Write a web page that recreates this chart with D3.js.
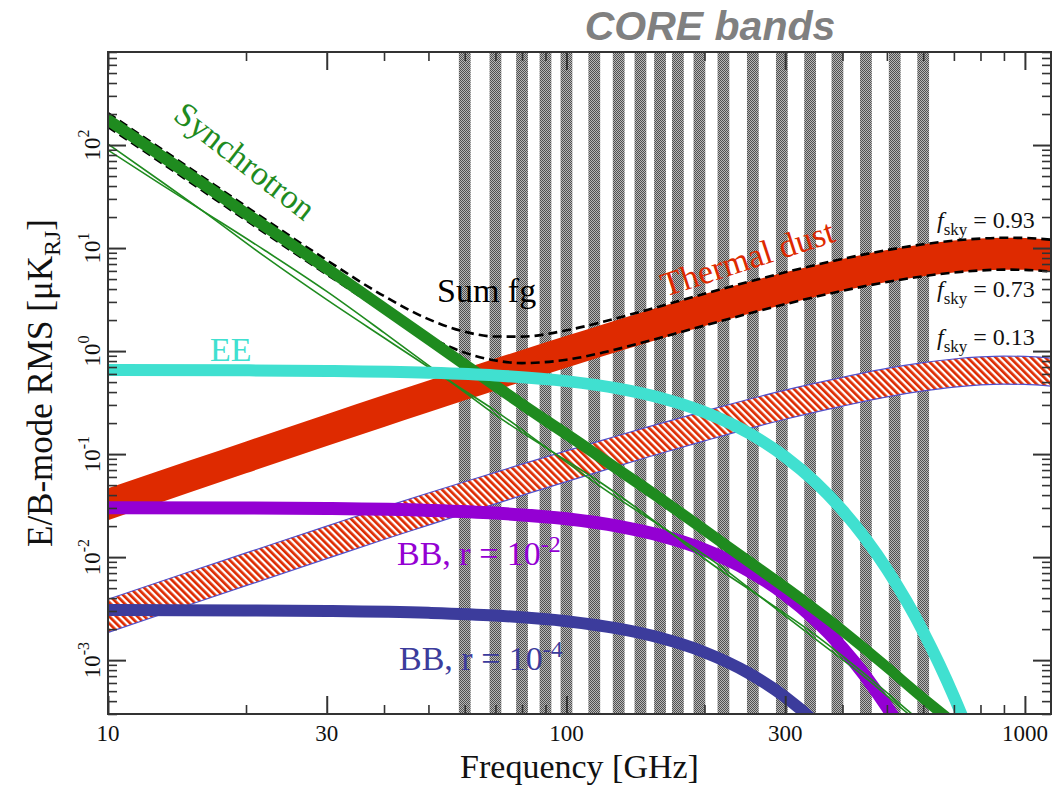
<!DOCTYPE html>
<html><head><meta charset="utf-8">
<script src="https://cdn.jsdelivr.net/npm/d3@7"></script>
<style>
body{margin:0;background:#fff;}
svg{display:block;}
</style></head><body>
<svg id="chart" width="1053" height="785"></svg>
<script>
// ---------------- DATA ----------------
const coreBands = [60,70,80,90,100,115,130,145,160,175,195,220,255,295,340,390,450,520,600];

const fgFreq   = [10,15,20,30,40,50,60,70,80,100,120,150,200,250,300,400,500,600,700,800,900,1000,1150];
const dust093  = [0.0465,0.0860,0.1327,0.2437,0.3738,0.5193,0.6778,0.8472,1.027,1.408,1.815,2.457,3.574,4.706,5.808,7.840,9.551,10.87,11.81,12.36,12.59,12.53,12.01];
const dust073  = [0.0228,0.0422,0.0651,0.1195,0.1833,0.2546,0.3323,0.4154,0.5034,0.6902,0.8899,1.205,1.752,2.307,2.848,3.844,4.683,5.328,5.789,6.063,6.172,6.142,5.889];
const dust013Hi= [0.0039,0.00717,0.01098,0.02002,0.03055,0.04188,0.05393,0.0665,0.0799,0.1075,0.1366,0.1828,0.2613,0.341,0.4184,0.5564,0.678,0.771,0.838,0.877,0.893,0.889,0.852];
const dust013Lo= [0.001857,0.00343,0.00528,0.00967,0.01483,0.02043,0.02657,0.03292,0.03975,0.0540,0.06916,0.09327,0.1343,0.1767,0.2179,0.2921,0.3587,0.4101,0.4469,0.469,0.4775,0.4754,0.4556];
const sync093  = [204.1,60.46,25.22,7.384,3.044,1.523,0.8616,0.5364,0.3552,0.1818,0.1045,0.0529,0.02145,0.01054,0.005933,0.002257,0.000996,0.000496,0.000285,0.000174,0.000112,0.000071,0.00004];
const sync073  = [150.1,44.47,18.55,5.431,2.239,1.120,0.6337,0.3945,0.2612,0.1337,0.07686,0.03891,0.01578,0.007751,0.004364,0.00166,0.000732,0.000364,0.000209,0.000128,0.000082,0.000052,0.000029];
const sumFg093 = [204.15,60.55,25.35,7.628,3.418,2.042,1.539,1.384,1.382,1.590,1.920,2.510,3.595,4.717,5.814,7.842,9.552,10.87,11.81,12.36,12.59,12.53,12.01];
const sumFg073 = [150.12,44.51,18.62,5.551,2.422,1.375,0.966,0.810,0.7646,0.8239,0.9668,1.244,1.768,2.315,2.852,3.846,4.684,5.328,5.789,6.063,6.172,6.142,5.889];

const syncThinFreq = [10,13,16,22,30,40,56,70,92,120,165,210,265,350,450,550,650];
const sync013a = [102.4,45.0,23.35,8.25,3.156,1.347,0.501,0.2632,0.1094,0.04677,0.01846,0.00904,0.004111,0.001589,0.00067,0.000314,0.000168];
const sync013b = [89.2,42.0,23.35,9.47,3.795,1.511,0.501,0.2401,0.1094,0.05128,0.01846,0.008246,0.004111,0.001742,0.000718,0.000336,0.00018];

const cmbFreq = [10,20,30,50,70,100,130,160,200,250,300,350,400,450,500,550,600,650,700,750,800];
const eeRms   = [0.6553,0.6503,0.6419,0.6161,0.5797,0.5105,0.4320,0.3525,0.2556,0.1598,0.09402,0.05274,0.02849,0.01493,0.007638,0.003831,0.00189,0.0009194,0.000442,0.0002103,0.0000992];
const bbR2    = [0.03022,0.02999,0.02961,0.02841,0.02674,0.02354,0.01992,0.01625,0.01179,0.007369,0.004336,0.002432,0.001314,0.0006886,0.0003523,0.0001767,0.0000872,0.0000424,0.0000204,0.0000097,0.0000046];
const bbR4    = [0.003062,0.003038,0.0030,0.002879,0.002709,0.002386,0.002019,0.001647,0.001194,0.0007467,0.0004393,0.0002464,0.0001331,0.0000698,0.0000357,0.0000179,0.0000088,0.0000043,0.0000021,0.000001,0.00000046];

const xTickLabels = [10,30,100,300,1000];
const yTickExps   = [-3,-2,-1,0,1,2];

// ---------------- CHART ----------------
const svg = d3.select('#chart');
const M = {l:108, r:1051, t:52, b:714};
const x = d3.scaleLog().domain([10,1140]).range([M.l,M.r]);
const y = d3.scaleLog().domain([3e-4,800]).range([M.b,M.t]);

const GREEN='#1f8b1f', RED='#de2a00', TURQ='#40e0d0', PURPLE='#9400d3', NAVY='#3c3c9c';
const SERIF='"Liberation Serif","Times New Roman",Times,serif';

const defs = svg.append('defs');
defs.append('clipPath').attr('id','plotclip').append('rect')
  .attr('x',M.l).attr('y',M.t).attr('width',M.r-M.l).attr('height',M.b-M.t);
const chk = defs.append('pattern').attr('id','checker').attr('width',2).attr('height',2)
  .attr('patternUnits','userSpaceOnUse');
chk.append('rect').attr('width',2).attr('height',2).attr('fill','#b8b8b8');
chk.append('rect').attr('width',1).attr('height',1).attr('fill','#505050');
chk.append('rect').attr('x',1).attr('y',1).attr('width',1).attr('height',1).attr('fill','#505050');
const hat = defs.append('pattern').attr('id','hatch').attr('width',5).attr('height',10)
  .attr('patternUnits','userSpaceOnUse').attr('patternTransform','rotate(-45)');
hat.append('rect').attr('width',5).attr('height',10).attr('fill','#fff');
hat.append('rect').attr('width',2.7).attr('height',10).attr('fill',RED);

const plot = svg.append('g').attr('clip-path','url(#plotclip)');

// CORE bands
plot.append('g').selectAll('rect').data(coreBands).join('rect')
  .attr('x',d=>x(d/1.03)).attr('width',d=>x(d*1.03)-x(d/1.03))
  .attr('y',M.t).attr('height',M.b-M.t).attr('fill','url(#checker)');

const line = d3.line().x(d=>x(d[0])).y(d=>y(d[1])).curve(d3.curveMonotoneX);
const area = d3.area().x(d=>x(d[0])).y0(d=>y(d[1])).y1(d=>y(d[2])).curve(d3.curveMonotoneX);
function drawLine(xs,arr,c,w,dash){
  const p = plot.append('path').datum(d3.zip(xs,arr)).attr('d',line)
    .attr('fill','none').attr('stroke',c).attr('stroke-width',w);
  if (dash) p.attr('stroke-dasharray',dash);
}

// Thermal dust fsky 0.93 / 0.73
plot.append('path').datum(d3.zip(fgFreq,dust073,dust093)).attr('d',area).attr('fill',RED);
// Thermal dust fsky 0.13 (hatched)
plot.append('path').datum(d3.zip(fgFreq,dust013Lo,dust013Hi)).attr('d',area).attr('fill','url(#hatch)');
drawLine(fgFreq,dust013Hi,'#5050cc',1.2);
drawLine(fgFreq,dust013Lo,'#5050cc',1.2);
// Sum of foregrounds
drawLine(fgFreq,sumFg093,'#000',2.6,'9,5');
drawLine(fgFreq,sumFg073,'#000',2.6,'9,5');
// BB
drawLine(cmbFreq,bbR2,PURPLE,13);
drawLine(cmbFreq,bbR4,NAVY,12);
// Synchrotron
plot.append('path').datum(d3.zip(fgFreq,sync073,sync093)).attr('d',area).attr('fill',GREEN);
drawLine(syncThinFreq,sync013a,GREEN,1.6);
drawLine(syncThinFreq,sync013b,GREEN,1.6);
// EE on top
drawLine(cmbFreq,eeRms,TURQ,12);

// ---------------- AXES ----------------
const xMinor=[], yMinor=[], yMajor=yTickExps.map(e=>Math.pow(10,e));
for (let d=1; d<=3; d++) for (let k=1;k<10;k++){ const v=k*Math.pow(10,d); if(v>=10&&v<=1140&&!xTickLabels.includes(v)) xMinor.push(v); }
for (let d=-4; d<=2; d++) for (let k=2;k<10;k++){ const v=k*Math.pow(10,d); if(v>=3e-4&&v<=800) yMinor.push(v); }

function ax(gen, tr, vals, len, w){
  const g = svg.append('g').attr('transform',tr)
    .call(gen.tickValues(vals).tickSize(-len).tickFormat(''));
  g.select('.domain').remove();
  g.selectAll('line').attr('stroke','#333').attr('stroke-width',w);
}
ax(d3.axisBottom(x), `translate(0,${M.b})`, xTickLabels, 18, 2);
ax(d3.axisBottom(x), `translate(0,${M.b})`, xMinor, 9, 1.6);
ax(d3.axisTop(x), `translate(0,${M.t})`, xTickLabels, 18, 2);
ax(d3.axisTop(x), `translate(0,${M.t})`, xMinor, 9, 1.6);
ax(d3.axisLeft(y), `translate(${M.l},0)`, yMajor, 18, 2);
ax(d3.axisLeft(y), `translate(${M.l},0)`, yMinor, 9, 1.6);
ax(d3.axisRight(y), `translate(${M.r},0)`, yMajor, 18, 2);
ax(d3.axisRight(y), `translate(${M.r},0)`, yMinor, 9, 1.6);

svg.append('rect').attr('x',M.l).attr('y',M.t).attr('width',M.r-M.l).attr('height',M.b-M.t)
  .attr('fill','none').attr('stroke','#333').attr('stroke-width',2);

// tick labels
svg.append('g').selectAll('text').data(xTickLabels).join('text')
  .attr('x',d=>x(d)).attr('y',741).attr('text-anchor','middle')
  .attr('font-family',SERIF).attr('font-size',23).attr('fill','#111').text(d=>d);
const yl = svg.append('g').selectAll('text').data(yTickExps).join('text')
  .attr('transform',d=>`translate(100,${y(Math.pow(10,d))}) rotate(-90)`)
  .attr('text-anchor','middle').attr('font-family',SERIF).attr('font-size',23).attr('fill','#111');
yl.append('tspan').text('10');
yl.append('tspan').attr('font-size',16).attr('dy',-11).text(d=>d);

// axis titles
svg.append('text').attr('x',(M.l+M.r)/2).attr('y',778).attr('text-anchor','middle')
  .attr('font-family',SERIF).attr('font-size',34).attr('fill','#111').text('Frequency [GHz]');
const yt = svg.append('text').attr('transform',`translate(52,${(M.t+M.b)/2}) rotate(-90)`)
  .attr('text-anchor','middle').attr('font-family',SERIF).attr('font-size',35).attr('fill','#111');
yt.append('tspan').text('E/B-mode RMS [μK');
yt.append('tspan').attr('font-size',24).attr('dy',8).text('RJ');
yt.append('tspan').attr('dy',-8).text(']');

// title
svg.append('text').attr('x',710).attr('y',40).attr('text-anchor','middle')
  .attr('font-family','"Liberation Sans",Arial,Helvetica,sans-serif').attr('font-weight','bold')
  .attr('font-style','italic').attr('font-size',41).attr('fill','#808080').text('CORE bands');

// curve labels
function lab(txt,xx,yy,col,rot){
  return svg.append('text').attr('transform',`translate(${xx},${yy}) rotate(${rot||0})`)
    .attr('font-family',SERIF).attr('font-size',34).attr('fill',col)
    .attr('text-anchor', rot? 'middle':'start').text(txt);
}
lab('Synchrotron',238,170,GREEN,38);
lab('Thermal dust',751,269,RED,-18);
lab('Sum fg',437,302,'#000');
lab('EE',210,361,TURQ);
const b2 = lab('BB, r = 10',397,565,PURPLE);
b2.append('tspan').attr('font-size',24).attr('dy',-13).text('-2');
const b4 = lab('BB, r = 10',399,670,NAVY);
b4.append('tspan').attr('font-size',24).attr('dy',-13).text('-4');

// fsky labels
[['0.93',228],['0.73',297],['0.13',345]].forEach(([v,yy])=>{
  const t = svg.append('text').attr('x',937).attr('y',yy).attr('font-family',SERIF)
    .attr('font-size',24).attr('fill','#111');
  t.append('tspan').attr('font-style','italic').text('f');
  t.append('tspan').attr('font-size',17).attr('dy',7).text('sky');
  t.append('tspan').attr('dy',-7).text(' = '+v);
});
</script>
</body></html>
